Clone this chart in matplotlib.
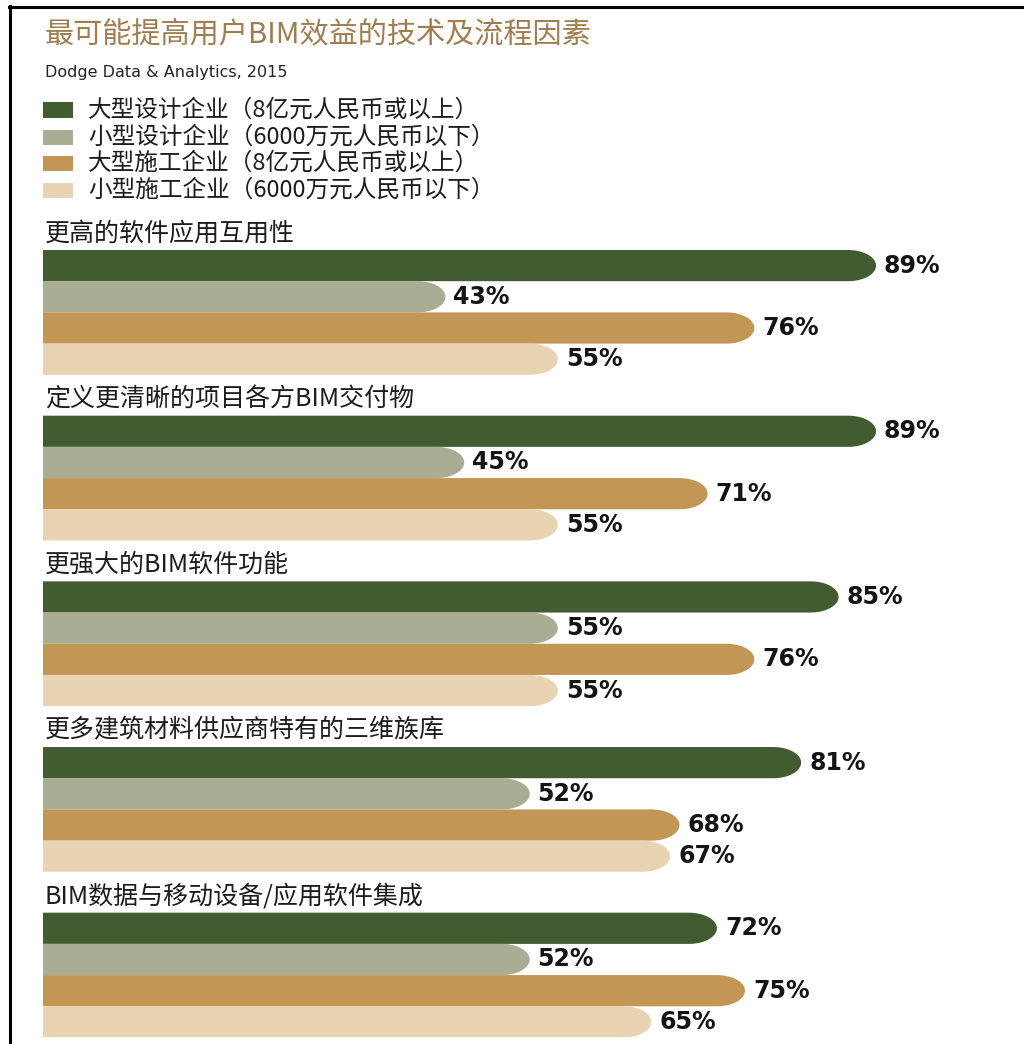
import numpy as np
import matplotlib
matplotlib.use("Agg")
import matplotlib.pyplot as plt
from matplotlib.path import Path
from matplotlib.patches import PathPatch, Rectangle
from matplotlib.lines import Line2D

plt.rcParams['font.family'] = ['Noto Sans CJK SC', 'DejaVu Sans']

# ---- data -------------------------------------------------------------
title = "最可能提高用户BIM效益的技术及流程因素"
source = "Dodge Data & Analytics, 2015"
series = [
    "大型设计企业（8亿元人民币或以上）",
    "小型设计企业（6000万元人民币以下）",
    "大型施工企业（8亿元人民币或以上）",
    "小型施工企业（6000万元人民币以下）",
]
categories = [
    "更高的软件应用互用性",
    "定义更清晰的项目各方BIM交付物",
    "更强大的BIM软件功能",
    "更多建筑材料供应商特有的三维族库",
    "BIM数据与移动设备/应用软件集成",
]
large_design = [89, 89, 85, 81, 72]
small_design = [43, 45, 55, 52, 52]
large_build = [76, 71, 76, 68, 75]
small_build = [55, 55, 55, 67, 65]
values = [large_design, small_design, large_build, small_build]
colors = ["#425C32", "#A8AD94", "#C49656", "#E8D3B3"]
title_color = "#A07C4E"

# ---- figure & layout ---------------------------------------------------
W, H = 1024, 1044
fig = plt.figure(figsize=(W / 100, H / 100), dpi=100)
fig.patch.set_facecolor("white")

pitch = 5.31          # vertical distance between groups (in bar heights)
n_groups = len(categories)
y_total = (n_groups - 1) * pitch + 4
top_px, bar_px = 250, 31.2
ax = fig.add_axes([43 / W, (H - (top_px + y_total * bar_px)) / H,
                   936 / W, y_total * bar_px / H])
ax.set_xlim(0, 100)
ax.set_ylim(y_total, 0)
ax.axis("off")

px_per_unit = 936 / 100
rx = 28 / px_per_unit  # horizontal radius of the rounded bar end
theta = np.linspace(-np.pi / 2, np.pi / 2, 40)


def rounded_bar(v, top, color):
    c = top + 0.5
    arc_x = v - rx + rx * np.cos(theta)
    arc_y = c + 0.5 * np.sin(theta)
    verts = [(0, top), (v - rx, top)] + list(zip(arc_x, arc_y)) + [(0, top + 1), (0, top)]
    codes = [Path.MOVETO] + [Path.LINETO] * (len(verts) - 2) + [Path.CLOSEPOLY]
    ax.add_patch(PathPatch(Path(verts, codes), facecolor=color, edgecolor="none"))


for g, cat in enumerate(categories):
    gtop = g * pitch
    ax.text(0.2, gtop - 0.52, cat, ha="left", va="center", fontsize=18,
            color="#1c1c1c", clip_on=False)
    for s, vals in enumerate(values):
        v = vals[g]
        top = gtop + s
        rounded_bar(v, top, colors[s])
        ax.text(v + 0.85, top + 0.5, f"{v}%", ha="left", va="center",
                fontsize=17, fontweight="heavy", family="DejaVu Sans",
                color="#141414", clip_on=False)

# ---- header ------------------------------------------------------------
fig.text(45 / W, 1 - 34 / H, title, ha="left", va="center", fontsize=21,
         color=title_color)
fig.text(45 / W, 1 - 72 / H, source, ha="left", va="center", fontsize=11.5,
         family="DejaVu Sans", color="#222222")

legend_y = [110, 137, 163, 190]
for ly, name, col in zip(legend_y, series, colors):
    fig.patches.append(Rectangle((43 / W, 1 - (ly + 7.5) / H), 30 / W, 15 / H,
                                 transform=fig.transFigure, facecolor=col,
                                 edgecolor="none"))
    fig.text(88 / W, 1 - ly / H, name, ha="left", va="center", fontsize=17,
             color="#1c1c1c")

# frame lines along the top and left edge
fig.add_artist(Line2D([9 / W, 1], [1 - 6.7 / H, 1 - 6.7 / H],
                      transform=fig.transFigure, color="black", lw=2.2))
fig.add_artist(Line2D([9.7 / W, 9.7 / W], [1 - 5.6 / H, 0],
                      transform=fig.transFigure, color="black", lw=2.2))

fig.savefig("out.png", dpi=100, facecolor="white")
